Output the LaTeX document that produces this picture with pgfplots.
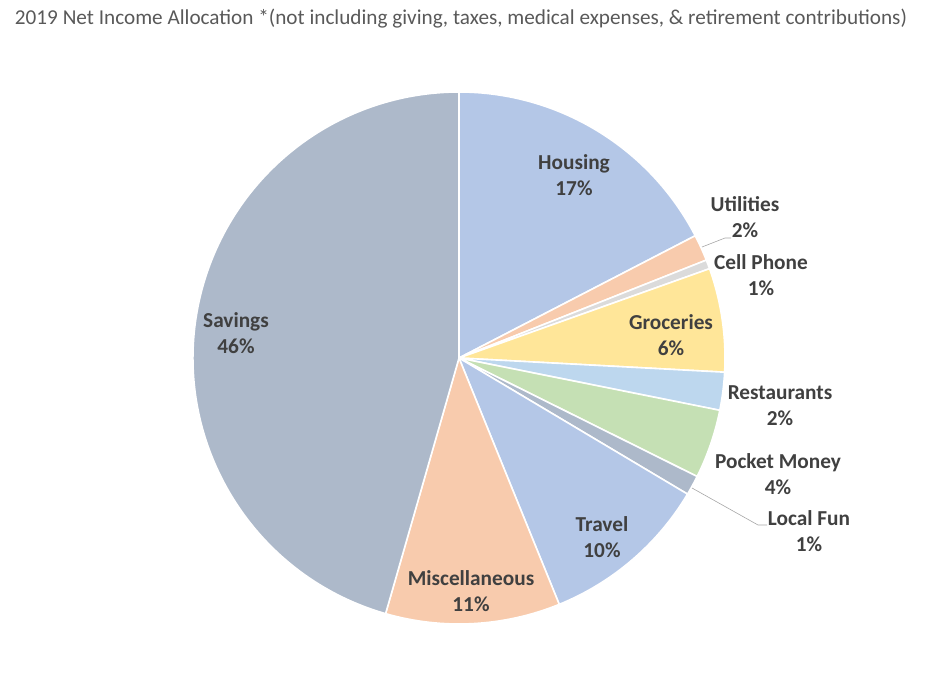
\documentclass[border=0pt]{standalone}
\usepackage{fontspec}
\setmainfont{Carlito}
\usepackage{pgfplots}
\usepackage{pgfplotstable}
\pgfplotsset{compat=1.18}
\usetikzlibrary{calc}

\definecolor{cBlue}{HTML}{B4C7E7}
\definecolor{cPeach}{HTML}{F8CBAD}
\definecolor{cGray}{HTML}{DBDBDB}
\definecolor{cYellow}{HTML}{FFE699}
\definecolor{cLight}{HTML}{BDD7EE}
\definecolor{cGreen}{HTML}{C5E0B4}
\definecolor{cSlate}{HTML}{ADB9CA}
\definecolor{labeltext}{HTML}{404040}
\definecolor{titletext}{HTML}{595959}
\definecolor{leader}{HTML}{A6A6A6}

% share in percent, slice colour, label position (px, y up)
\pgfplotstableread[col sep=comma]{
value,col,lx,ly,name
17.4,cBlue,574,502,Housing
1.6,cPeach,745,460,Utilities
0.55,cGray,761,402,Cell Phone
6.3,cYellow,671,342,Groceries
2.3,cLight,780,271,Restaurants
4.2,cGreen,778,203,Pocket Money
1.2,cSlate,809,146,Local Fun
10.3,cBlue,602,140,Travel
10.6,cPeach,471,86,Miscellaneous
45.55,cSlate,236,344,Savings
}\slices

\begin{document}
\begin{tikzpicture}
\begin{axis}[
    scale only axis,
    width=942pt, height=677pt,
    xmin=0, xmax=942, ymin=0, ymax=677,
    hide axis, clip=false,
]
\pgfplotsextra{
  \path (rel axis cs:0,0) rectangle (rel axis cs:1,1);
  \pgfplotstablegetrowsof{\slices}
  \pgfmathtruncatemacro\nrows{\pgfplotsretval-1}
  \xdef\cum{90}
  \foreach \i in {0,...,\nrows}{
    \pgfplotstablegetelem{\i}{value}\of\slices \let\v\pgfplotsretval
    \pgfplotstablegetelem{\i}{col}\of\slices \let\c\pgfplotsretval
    \pgfmathsetmacro\aend{\cum-3.6*\v}
    \fill[fill=\c, draw=white, line width=1.6pt, line join=round]
      (axis cs:459,319) -- ($(axis cs:459,319)+(\cum:266pt)$)
      arc[start angle=\cum, end angle=\aend, radius=266pt] -- cycle;
    \xdef\cum{\aend}
  }
}
\addplot[leader, line width=0.6pt] coordinates {(702,430) (725,439) (731,439)};
\addplot[leader, line width=0.6pt] coordinates {(692,189) (758,152) (767,152)};
\pgfplotsextra{
  \foreach \i in {0,...,\nrows}{
    \pgfplotstablegetelem{\i}{value}\of\slices \let\v\pgfplotsretval
    \pgfplotstablegetelem{\i}{lx}\of\slices \let\lx\pgfplotsretval
    \pgfplotstablegetelem{\i}{ly}\of\slices \let\ly\pgfplotsretval
    \pgfplotstablegetelem{\i}{name}\of\slices \let\nm\pgfplotsretval
    \node[align=center, text=labeltext, font=\fontsize{21.3}{26}\selectfont\bfseries]
      at (axis cs:\lx,\ly) {\nm\\\pgfmathprintnumber[fixed,precision=0,assume math mode=true]{\v}\%};
  }
  \node[anchor=base, text=titletext, font=\fontsize{21.2}{24}\selectfont]
    at (axis cs:461,652) {2019 Net Income Allocation *(not including giving, taxes, medical expenses, \& retirement contributions)};
}
\end{axis}
\end{tikzpicture}
\end{document}
